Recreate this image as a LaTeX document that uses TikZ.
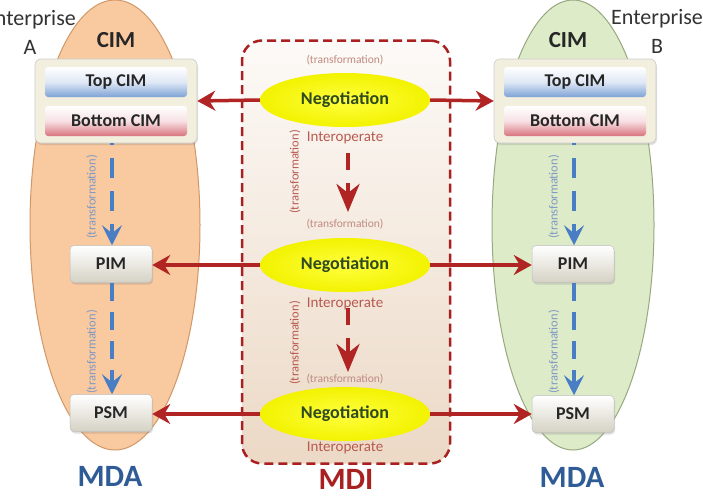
\documentclass[tikz,border=0pt]{standalone}
\usepackage{fontspec}
\setmainfont{Carlito}
\usetikzlibrary{shapes.geometric,arrows.meta,shadows}
\definecolor{peach}{HTML}{F9C9A0}
\definecolor{peachline}{HTML}{D09868}
\definecolor{mint}{HTML}{DDEBC8}
\definecolor{mintline}{HTML}{98A880}
\definecolor{mdired}{HTML}{A82020}
\definecolor{arrred}{HTML}{B02424}
\definecolor{mdablue}{HTML}{2F5C96}
\definecolor{dblue}{HTML}{4A7EC4}
\definecolor{tblue}{HTML}{8098C4}
\definecolor{negtext}{HTML}{2E4A1E}
\definecolor{rosy}{HTML}{C08A80}
\definecolor{interop}{HTML}{B85A50}
\definecolor{boxcream}{HTML}{F2EFDF}
\definecolor{barblue}{HTML}{7EA2D6}
\definecolor{barred}{HTML}{D9747F}
\tikzset{
  bigell/.style={ellipse, inner sep=0pt, minimum height=450pt, line width=1pt},
  container/.style={rounded corners=6pt, fill=boxcream, draw=white!80!black, line width=0.6pt, minimum width=162pt, minimum height=84pt,
    drop shadow={shadow xshift=1pt, shadow yshift=-2pt, opacity=0.25}},
  bar/.style={rounded corners=3pt, minimum width=142pt, minimum height=30pt, font=\bfseries\fontsize{18}{18}\selectfont, text=black!85},
  topbar/.style={bar, top color=white, bottom color=barblue, middle color=barblue!25!white},
  botbar/.style={bar, top color=white, bottom color=barred, middle color=barred!22!white},
  mbox/.style={rounded corners=4pt, minimum width=82pt, minimum height=37pt, top color=white, bottom color=black!12!boxcream,
    draw=white!75!black, line width=0.5pt, font=\bfseries\fontsize{18}{18}\selectfont, text=black!85,
    drop shadow={shadow xshift=1pt, shadow yshift=-2pt, opacity=0.25}},
  neg/.style={ellipse, inner sep=0pt, minimum width=170pt, minimum height=54pt, inner color=yellow!75!white, outer color=yellow!95!black,
    font=\bfseries\fontsize{18}{18}\selectfont, text=negtext},
  trans/.style={font=\fontsize{11.5}{11.5}\selectfont, text=rosy},
  interlbl/.style={font=\fontsize{15}{15}\selectfont, text=interop},
  vtrans/.style={font=\fontsize{12.5}{12.5}\selectfont, rotate=90},
  redarrow/.style={draw=arrred, line width=3.5pt, -{Stealth[length=18pt,width=20pt,inset=6pt]}},
  reddash/.style={draw=arrred, line width=4pt, dash pattern=on 17pt off 13pt, -{Stealth[length=28pt,width=23pt,inset=9pt]}},
  bluedash/.style={draw=dblue, line width=3.5pt, -{Stealth[length=20pt,width=20pt,inset=8pt]}},
  biglbl/.style={font=\bfseries\fontsize{31}{31}\selectfont},
  entlbl/.style={font=\fontsize{22}{29}\selectfont, text=black!80, align=center}
}
\begin{document}
\begin{tikzpicture}[x=1pt,y=-1pt]
\useasboundingbox (0,0) rectangle (703,498);
\clip (0,0) rectangle (703,498);
\fill[white] (0,0) rectangle (703,498);

% big ellipses
\node[bigell, minimum width=170pt, fill=peach, draw=peachline] (elA) at (115,225) {};
\node[bigell, minimum width=162pt, fill=mint, draw=mintline] (elB) at (573,225) {};

% MDI box
\node[draw=mdired, line width=2.5pt, dash pattern=on 9pt off 5pt, rounded corners=20pt,
  minimum width=208pt, minimum height=423pt, top color=white!96!brown, bottom color=brown!30!white] (mdi) at (346,252) {};

% labels
\node[entlbl] (entA) at (30,32) {Enterprise\\A};
\node[entlbl] (entB) at (657,31) {Enterprise\\B};
\node[font=\bfseries\fontsize{23}{23}\selectfont, text=black!85] (cimlA) at (116,40) {CIM};
\node[font=\bfseries\fontsize{23}{23}\selectfont, text=black!85] (cimlB) at (568,40) {CIM};

% CIM containers
\node[container] (cimA) at (116,101) {};
\node[topbar] (topA) at (116,82) {Top CIM};
\node[botbar] (botA) at (116,121) {Bottom CIM};
\node[container] (cimB) at (575,101) {};
\node[topbar] (topB) at (575,82) {Top CIM};
\node[botbar] (botB) at (575,121) {Bottom CIM};

% PIM / PSM
\node[mbox] (pimA) at (111,264) {PIM};
\node[mbox] (psmA) at (111,413) {PSM};
\node[mbox] (pimB) at (573,264) {PIM};
\node[mbox] (psmB) at (573,414) {PSM};

% negotiation
\node[trans] (t1) at (345,60) {(transformation)};
\node[neg] (n1) at (345,100) {Negotiation};
\node[interlbl] (i1) at (345,138) {Interoperate};
\node[trans] (t2) at (345,224) {(transformation)};
\node[neg] (n2) at (345,265) {Negotiation};
\node[interlbl] (i2) at (345,304) {Interoperate};
\node[trans] (t3) at (345,379) {(transformation)};
\node[neg] (n3) at (345,414) {Negotiation};
\node[interlbl] (i3) at (345,448) {Interoperate};

% vertical transformation labels
\node[vtrans, text=interop] (v1) at (295,172) {(transformation)};
\node[vtrans, text=interop] (v2) at (295,343) {(transformation)};
\node[vtrans, text=tblue] (va1) at (92,197) {(transformation)};
\node[vtrans, text=tblue] (va2) at (92,352) {(transformation)};
\node[vtrans, text=tblue] (vb1) at (554,197) {(transformation)};
\node[vtrans, text=tblue] (vb2) at (554,352) {(transformation)};

% red horizontal arrows
\draw[redarrow] (n1.west) -- (cimA.east);
\draw[redarrow] (n1.east) -- (cimB.west);
\draw[redarrow] (n2.west) -- (pimA.east |- n2.west);
\draw[redarrow] (n2.east) -- (pimB.west |- n2.east);
\draw[redarrow] (n3.west) -- (psmA.east |- n3.west);
\draw[redarrow] (n3.east) -- (psmB.west);

% red vertical dashed
\coordinate (r1s) at (348,153);
\coordinate (r1e) at (348,212);
\coordinate (r2s) at (348,308);
\coordinate (r2e) at (348,372);
\draw[reddash] (r1s) -- (r1e);
\draw[reddash] (r2s) -- (r2e);

% blue dashed
\draw[bluedash, dash pattern=on 20pt off 13pt, dash phase=18pt] (cimA.south -| 112,0) -- (pimA.north -| 112,0);
\draw[bluedash, dash pattern=on 18pt off 11pt] (pimA.south -| 112,0) -- (psmA.north -| 112,0);
\draw[bluedash, dash pattern=on 20pt off 13pt, dash phase=18pt] (cimB.south -| 574,0) -- (pimB.north -| 574,0);
\draw[bluedash, dash pattern=on 18pt off 11pt] (pimB.south -| 574,0) -- (psmB.north -| 574,0);

% bottom labels
\node[biglbl, text=mdablue] (mdaA) at (110,476) {MDA};
\node[biglbl, text=mdablue] (mdaB) at (572,477) {MDA};
\node[biglbl, text=mdired] (mdil) at (346,479) {MDI};
\end{tikzpicture}
\end{document}
